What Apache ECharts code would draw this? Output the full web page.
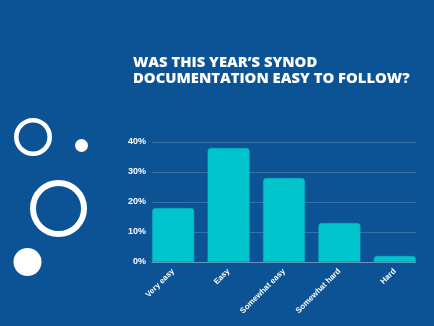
<!DOCTYPE html>
<html>
<head>
<meta charset="utf-8">
<script src="https://cdn.jsdelivr.net/npm/echarts@6/dist/echarts.min.js"></script>
<style>
  html, body { margin: 0; padding: 0; background: #0b5394; }
  #chart { width: 434px; height: 326px; }
</style>
</head>
<body>
<div id="chart"></div>
<script>
// Survey answers and share of respondents (%)
const categories = ['Very easy', 'Easy', 'Somewhat easy', 'Somewhat hard', 'Hard'];
const shares = [18, 38, 28, 13, 2];
const yTicks = [0, 10, 20, 30, 40];

const chart = echarts.init(document.getElementById('chart'), null, { renderer: 'canvas' });

const white = '#ffffff';
const labelFont = { color: white, fontFamily: 'Liberation Sans', fontWeight: 'bold', fontSize: 9 };

// grid 0 holds the bars (bands padded so the outer bars sit flush with the rules),
// grid 1 holds the value scale, its rules and the baseline
chart.setOption({
  backgroundColor: '#0b5394',
  animation: false,
  title: {
    text: 'WAS THIS YEAR\u2019S SYNOD\nDOCUMENTATION EASY TO FOLLOW?',
    left: 128,
    top: 50,
    textStyle: {
      color: white,
      fontFamily: 'Open Sans',
      fontWeight: 800,
      fontSize: 14.8,
      lineHeight: 16
    }
  },
  grid: [
    { left: 145.5, right: 11.5, top: 142, bottom: 64, containLabel: false },
    { left: 152, right: 18, top: 142, bottom: 64, containLabel: false }
  ],
  xAxis: [{
    type: 'category',
    gridIndex: 0,
    data: categories,
    axisLine: { show: false },
    axisTick: { show: false },
    axisLabel: Object.assign({}, labelFont, { rotate: 45, interval: 0, margin: 8, fontSize: 8 })
  }, {
    type: 'category',
    gridIndex: 1,
    data: categories,
    axisLine: { show: true, lineStyle: { color: 'rgba(255,255,255,0.25)', width: 1 } },
    axisTick: { show: false },
    axisLabel: { show: false }
  }],
  yAxis: [{
    type: 'value',
    gridIndex: 0,
    min: yTicks[0],
    max: yTicks[yTicks.length - 1],
    interval: 10,
    show: false
  }, {
    type: 'value',
    gridIndex: 1,
    min: yTicks[0],
    max: yTicks[yTicks.length - 1],
    interval: 10,
    axisLine: { show: false },
    axisTick: { show: false },
    splitLine: { lineStyle: { color: 'rgba(255,255,255,0.18)', width: 1 } },
    axisLabel: Object.assign({ margin: 6, formatter: v => v + '%' }, labelFont)
  }],
  series: [{
    type: 'bar',
    xAxisIndex: 0,
    yAxisIndex: 0,
    data: shares,
    barWidth: 42,
    itemStyle: {
      color: '#00c4cc',
      borderColor: '#0aaec0',
      borderWidth: 0.6,
      borderRadius: [3, 3, 0, 0]
    }
  }],
  graphic: [
    // decorative rings and dots on the left
    { type: 'circle', shape: { cx: 33, cy: 137, r: 16.7 }, style: { fill: 'none', stroke: white, lineWidth: 4.6 } },
    { type: 'circle', shape: { cx: 81.5, cy: 145.5, r: 6.5 }, style: { fill: white } },
    { type: 'circle', shape: { cx: 58.5, cy: 208.5, r: 25.5 }, style: { fill: 'none', stroke: white, lineWidth: 6 } },
    { type: 'circle', shape: { cx: 27.5, cy: 262, r: 14 }, style: { fill: white } }
  ]
});
</script>
</body>
</html>
